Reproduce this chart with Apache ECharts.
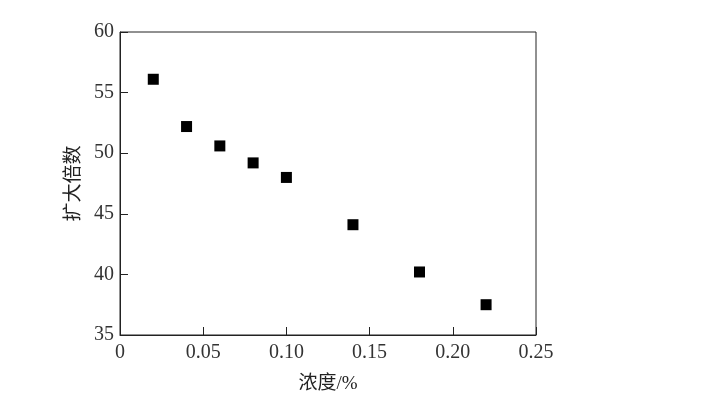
<!DOCTYPE html>
<html><head><meta charset="utf-8">
<script src="https://cdn.jsdelivr.net/npm/echarts@6/dist/echarts.min.js"></script>
<style>html,body{margin:0;padding:0;background:#fff}#c{width:721px;height:401px}</style>
</head><body><div id="c"></div>
<script>
const concentration = [0.02, 0.04, 0.06, 0.08, 0.10, 0.14, 0.18, 0.22];
const magnification = [56.1, 52.2, 50.6, 49.2, 48.0, 44.1, 40.2, 37.5];
const xTickLabels = ['0', '0.05', '0.10', '0.15', '0.20', '0.25'];
const xName = '浓度/%';
const yName = '扩大倍数';

const font = '"Liberation Serif", "Times New Roman", "Noto Sans CJK SC", serif';
const chart = echarts.init(document.getElementById('c'));
chart.setOption({
  animation: false,
  grid: { left: 120, top: 32, width: 416, height: 303, show: true, borderColor: '#222', borderWidth: 1 },
  xAxis: {
    type: 'value', min: 0, max: 0.25, interval: 0.05,
    name: xName, nameLocation: 'middle', nameGap: 40,
    nameTextStyle: { fontFamily: font, fontSize: 19, color: '#222' },
    axisLine: { show: true, lineStyle: { color: '#222', width: 1 } },
    axisTick: { show: true, inside: true, length: 8, lineStyle: { color: '#222' } },
    axisLabel: { fontFamily: font, fontSize: 20, color: '#333', margin: 8,
      formatter: v => xTickLabels[Math.round(v / 0.05)] },
    splitLine: { show: false }
  },
  yAxis: {
    type: 'value', min: 35, max: 60, interval: 5,
    name: yName, nameLocation: 'middle', nameGap: 32,
    nameTextStyle: { fontFamily: font, fontSize: 19, color: '#222' },
    axisLine: { show: true, lineStyle: { color: '#222', width: 1 } },
    axisTick: { show: true, inside: true, length: 8, lineStyle: { color: '#222' } },
    axisLabel: { fontFamily: font, fontSize: 20, color: '#333', margin: 6 },
    splitLine: { show: false }
  },
  series: [{
    type: 'scatter', symbol: 'rect', symbolSize: 11,
    itemStyle: { color: '#000', opacity: 1 },
    data: concentration.map((x, i) => [x, magnification[i]])
  }]
});
</script></body></html>
